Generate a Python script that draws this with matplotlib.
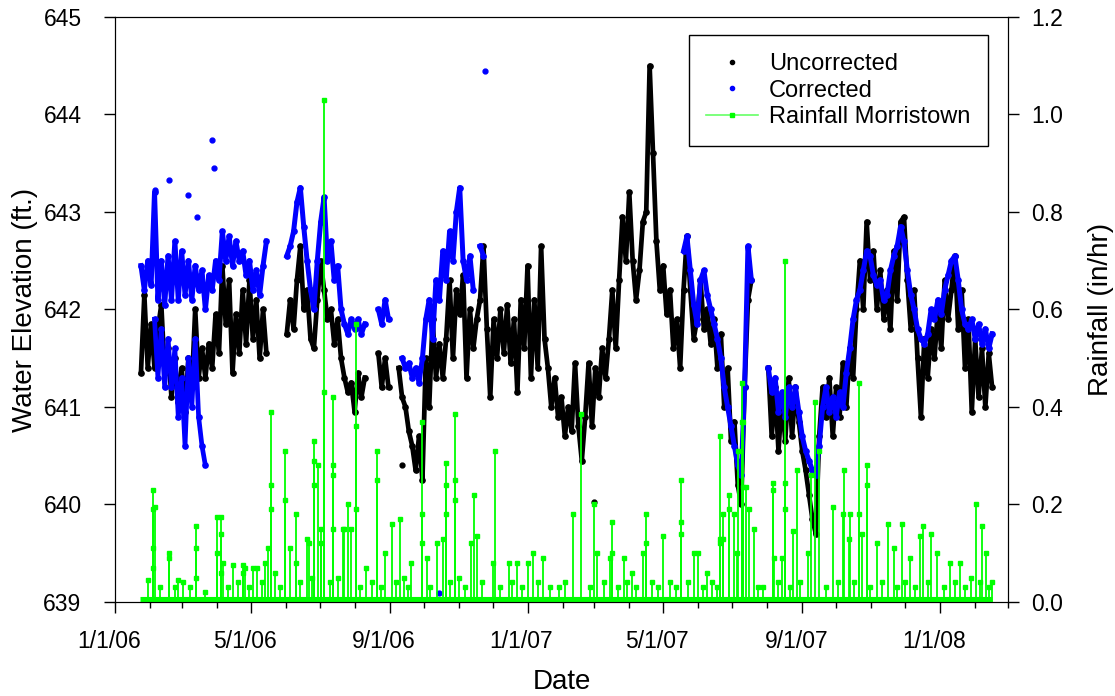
import numpy as np
import pandas as pd
import matplotlib
matplotlib.use('Agg')
import matplotlib.pyplot as plt
import matplotlib.dates as mdates
from matplotlib.lines import Line2D
from matplotlib.transforms import ScaledTranslation

plt.rcParams['font.family'] = ['Liberation Sans', 'DejaVu Sans']

nan = np.nan
t0 = pd.Timestamp('2006-01-01')

# water level readings (ft), one every 3 days starting 1/24/06
level_dates = pd.date_range('2006-01-24', periods=252, freq='3D')

uncorrected = [
    641.35, 642.15, 641.4, 641.85, 641.4, 641.8, 642.05, 641.35, 641.6, 641.1,
    641.5, 641.05, 641.4, 640.95, 641.5, 641.2, 642.0, 641.3, 641.6, 641.3,
    641.65, 641.4, 641.95, 641.55, 642.45, 641.85, 642.3, 641.35, 641.95, 641.55,
    642.2, 641.65, 642.3, 641.7, 642.1, 641.5, 642.0, 641.55, nan, nan,
    nan, nan, nan, 641.75, 642.1, 641.8, 642.3, 642.65, 642.0, 642.2,
    641.7, 641.6, 642.1, 642.5, 642.2, 641.9, 642.0, 641.65, 641.9, 641.5,
    641.3, 641.15, 641.25, 640.95, 641.35, 641.1, 641.3, nan, nan, nan,
    641.55, 641.2, 641.5, 641.2, nan, nan, 641.4, 641.1, 641.0, 640.75,
    640.6, 640.35, 640.7, 640.25, 641.5, 641.0, 641.9, 641.3, 641.65, 641.3,
    641.7, 642.3, 641.5, 642.2, 641.95, 642.35, 641.3, 642.0, 641.6, 641.9,
    642.1, 642.65, 641.8, 641.1, 641.9, 641.5, 642.0, 641.55, 642.05, 641.45,
    641.9, 641.15, 642.1, 641.6, 642.45, 641.3, 642.1, 641.4, 642.65, 641.7,
    641.4, 641.0, 641.3, 640.9, 641.1, 640.7, 641.0, 640.75, 641.45, 640.8,
    640.45, 640.9, 641.45, 640.8, 641.4, 641.1, 641.6, 641.3, 641.7, 642.2,
    641.6, 642.3, 642.95, 642.5, 643.2, 642.5, 642.1, 642.4, 642.9, 643.0,
    644.5, 643.6, 642.7, 642.2, 642.45, 641.95, 642.2, 641.6, 641.9, 641.4,
    642.2, 642.75, 642.2, 641.7, 641.9, 642.3, 641.8, 642.0, 641.65, 641.9,
    641.4, 641.75, 641.0, 641.4, 640.65, 640.85, 640.2, 640.0, 641.2, 642.1,
    642.3, nan, nan, nan, nan, 641.4, 640.7, 641.2, 640.55, 641.1,
    640.65, 641.3, 640.7, 641.2, 640.85, 640.55, 640.35, 640.1, 639.85, 639.7,
    640.7, 641.2, 640.9, 641.3, 640.7, 641.2, 640.9, 641.45, 641.0, 641.6,
    641.3, 642.0, 642.5, 642.0, 642.9, 642.3, 642.6, 642.0, 642.4, 641.9,
    642.2, 641.8, 642.6, 642.1, 642.9, 642.95, 642.3, 641.8, 642.2, 641.5,
    640.9, 641.7, 641.3, 641.8, 641.5, 642.0, 641.6, 642.3, 641.9, 642.2,
    642.55, 641.8, 642.2, 641.4, 641.9, 640.95, 641.7, 641.1, 641.6, 641.0,
    641.55, 641.2,
]

corrected = [
    642.45, 642.2, 642.5, 642.25, 643.2, 642.1, 642.5, 642.05, 642.55, 642.1,
    642.7, 642.1, 642.6, 642.15, 642.5, 642.1, 642.45, 642.2, 642.4, 642.0,
    642.35, 642.2, 642.5, 642.3, 642.8, 642.5, 642.75, 642.45, 642.7, 642.5,
    642.6, 642.35, 642.5, 642.2, 642.4, 642.15, 642.45, 642.7, nan, nan,
    nan, nan, nan, 642.55, 642.65, 642.8, 643.1, 643.25, 642.85, 642.5,
    642.2, 642.0, 642.5, 642.9, 643.15, 642.5, 642.7, 642.3, 642.45, 642.0,
    641.85, 641.75, 641.9, 641.8, 641.9, 641.75, 641.85, nan, nan, nan,
    642.0, 641.85, 642.1, 641.9, nan, nan, nan, 641.5, 641.4, 641.45,
    641.3, 641.4, 641.25, 641.5, 641.9, 642.1, 641.7, 642.3, 642.1, 642.6,
    642.3, 642.8, 642.5, 643.0, 643.25, 642.5, 642.3, 642.55, 642.2, nan,
    642.65, 642.55] + [nan] * 58 + [
    642.6, 642.75, 642.4, 642.05, 641.85, 642.3, 642.4, 642.15, 642.0, 641.85,
    641.7, 641.5, 641.2, 641.0, 640.8, 640.6, 640.4, 640.3, 641.2, 642.65,
    642.3, nan, nan, nan, nan, 641.4, 641.15, 641.3, 640.95, 641.15,
    640.9, 641.2, 641.0, 641.2, 640.95, 640.7, 640.55, 640.45, 640.35, 640.3,
    640.6, 641.0, 641.2, 640.95, 641.1, 640.9, 641.15, 641.0, 641.35, 641.6,
    641.9, 642.1, 642.2, 642.4, 642.6, 642.55, 642.35, 642.25, 642.3, 642.1,
    642.15, 642.4, 642.55, 642.65, 642.85, 642.7, 642.4, 642.15, 642.0, 641.8,
    641.7, 641.65, 641.75, 642.0, 641.9, 642.1, 641.95, 642.2, 642.35, 642.5,
    642.55, 642.3, 642.0, 641.85, 641.8, 641.9, 641.7, 641.85, 641.65, 641.8,
    641.6, 641.75,
]

# second (lower) group of corrected readings, Feb-Mar 2006
corrected_low_dates = pd.date_range('2006-02-05', periods=16, freq='3D')
corrected_low = [641.9, 641.3, 641.8, 641.2, 641.7, 641.2, 641.6, 640.9,
                 641.3, 640.6, 641.5, 641.0, 641.7, 640.9, 640.6, 640.4]

# isolated readings (days since 1/1/06)
corrected_out_day = [35, 48, 65, 73, 86, 88, 287, 327]
corrected_out = [643.23, 643.33, 643.17, 642.95, 643.74, 643.45, 639.09, 644.45]
uncorrected_out_day = [254, 424]
uncorrected_out = [640.4, 640.03]

# rainfall (in/hr), days since 1/1/06
rain_day = [
    29, 34, 34, 34, 34, 35, 40, 48, 48, 53, 56, 60, 66, 72, 72, 72, 80,
    90, 90, 94, 94, 94, 96, 100, 104, 109, 113, 113, 115, 119, 122, 126, 130, 133, 135, 138, 138, 138, 142, 146,
    150, 150, 155, 160, 160, 164, 170, 172, 174, 176, 176, 176, 180, 182, 182, 185, 185, 190, 193, 193, 193, 193, 197, 202, 203, 206, 209,
    213, 213, 213, 217, 222, 227, 232, 232, 235, 239, 245, 249, 252, 256, 259, 262, 272, 272, 272, 276, 279, 285, 290, 293, 293, 293, 296,
    301, 301, 301, 304, 310, 315, 318, 320, 325, 334, 336, 341, 349, 351, 356, 360, 365, 370, 374, 379, 385, 393, 398,
    405, 412, 420, 424, 426, 433, 438, 440, 440, 445, 450, 453, 457, 461, 467, 470, 470, 475, 480, 485, 491, 496,
    501, 501, 501, 507, 512, 516, 520, 524, 528, 533, 535, 535, 535, 538, 538, 543, 543, 548, 550, 551, 555, 555, 556, 556, 558, 561, 565, 569, 573,
    582, 582, 583, 587, 590, 593, 593, 593, 597, 600, 603, 606, 613, 616, 619, 623, 629, 635, 640, 644, 645, 649,
    650, 654, 658, 658, 661, 665, 665, 668, 674, 679, 684, 689, 692, 696, 699, 703, 708, 712, 715, 719, 722, 727, 733, 739, 743, 748, 752, 757, 762, 765, 767, 771, 773, 776,
]
rain_in = [
    .045, .23, .19, .11, .07, .195, .03, .10, .09, .03, .045, .04, .03, .155, .11, .05, .02,
    .175, .10, .175, .14, .06, .08, .03, .075, .04, .075, .06, .07, .03, .07, .07, .04, .08, .11, .39, .24, .19, .06, .03,
    .31, .21, .11, .18, .08, .04, .13, .12, .05, .33, .29, .24, .28, .15, .12, 1.03, .43, .04, .42, .28, .26, .15, .05, .15, .15, .20, .15,
    .57, .36, .19, .03, .07, .04, .31, .25, .03, .10, .16, .04, .17, .05, .03, .08, .37, .18, .12, .09, .03, .12, .13, .285, .24, .18, .04,
    .385, .25, .21, .05, .03, .12, .22, .135, .04, .08, .31, .03, .08, .04, .08, .03, .08, .10, .04, .09, .03, .03, .04,
    .18, .385, .03, .20, .10, .04, .09, .165, .10, .03, .09, .04, .06, .03, .10, .18, .12, .04, .03, .135, .04, .03,
    .25, .165, .14, .04, .10, .10, .03, .06, .04, .03, .34, .13, .12, .18, .13, .22, .19, .18, .10, .31, .45, .37, .37, .235, .235, .19, .15, .03, .03,
    .245, .23, .09, .04, .09, .70, .245, .19, .03, .145, .27, .04, .10, .26, .41, .31, .03, .195, .04, .18, .27, .13,
    .18, .04, .45, .18, .14, .28, .24, .03, .12, .04, .16, .11, .03, .16, .04, .09, .03, .135, .155, .04, .14, .10, .03, .08, .04, .08, .03, .05, .20, .04, .155, .10, .03, .04,
]
rain_first_day, rain_last_day = 22, 776

green = '#00ff00'

fig = plt.figure(figsize=(11.15, 6.96), dpi=100)
ax = fig.add_axes([0.1031, 0.1351, 0.8009, 0.8405])
ax2 = ax.twinx()

# water levels
ax.plot(level_dates, uncorrected, '-o', color='black', lw=3.4, ms=3.8)
ax.plot(t0 + pd.to_timedelta(uncorrected_out_day, 'D'), uncorrected_out, 'o', color='black', ms=3.5)
ax.plot(level_dates, corrected, '-o', color='#0000ff', lw=3.6, ms=3.8)
ax.plot(corrected_low_dates, corrected_low, '-o', color='#0000ff', lw=3.4, ms=3.8)
ax.plot(t0 + pd.to_timedelta(corrected_out_day, 'D'), corrected_out, 'o', color='#0000ff', ms=3.5)

# rainfall
rain_dates = t0 + pd.to_timedelta(rain_day, 'D')
ax2.plot([t0 + pd.Timedelta(days=rain_first_day), t0 + pd.Timedelta(days=rain_last_day)],
         [0, 0], color=green, lw=8, solid_capstyle='butt')
ax2.vlines(rain_dates, 0, rain_in, colors=green, lw=1.3)
ax2.plot(rain_dates, rain_in, 's', color=green, ms=3.5)

ax.set_xlim(pd.Timestamp('2006-01-01'), pd.Timestamp('2008-03-01'))
ax.set_ylim(639, 645)
ax.set_yticks(range(639, 646))
ax2.set_ylim(0, 1.2)
ax2.set_yticks(np.arange(0, 1.21, 0.2))
ax2.yaxis.set_major_formatter(plt.FormatStrFormatter('%.1f'))

ax.xaxis.set_major_locator(mdates.MonthLocator(bymonth=[1, 5, 9]))
ax.xaxis.set_minor_locator(mdates.MonthLocator())
ax.xaxis.set_major_formatter(mdates.DateFormatter('%-m/%-d/%y'))

ax.tick_params(axis='x', which='major', direction='out', length=8, width=1, labelsize=16.5, pad=12)
ax.tick_params(axis='x', which='minor', direction='out', length=4, width=1)
ax.tick_params(axis='y', direction='out', length=8, width=1, labelsize=16.5, pad=16)
ax2.tick_params(axis='y', direction='out', length=8, width=1, labelsize=16.5, pad=9)

for lab in ax.get_xticklabels():
    lab.set_transform(lab.get_transform() + ScaledTranslation(-0.06, 0, fig.dpi_scale_trans))

ax.set_xlabel('Date', fontsize=20, labelpad=12)
ax.set_ylabel('Water Elevation (ft.)', fontsize=20, labelpad=4)
ax2.set_ylabel('Rainfall (in/hr)', fontsize=20, labelpad=18)

handles = [
    Line2D([], [], ls='none', marker='o', color='black', ms=3),
    Line2D([], [], ls='none', marker='o', color='#0000ff', ms=3),
    Line2D([], [], color='#66ff66', lw=1.2, marker='s', mfc=green, mec=green, ms=3),
]
leg = ax2.legend(handles, ['Uncorrected', 'Corrected', 'Rainfall Morristown'],
                 loc='upper right', bbox_to_anchor=(0.9776, 0.969), fontsize=17,
                 frameon=True, fancybox=False, edgecolor='black', framealpha=1,
                 handlelength=2.2, handletextpad=0.45, labelspacing=0.2,
                 borderpad=0.75, borderaxespad=0)
leg.get_frame().set_linewidth(1)

fig.savefig('out.png', dpi=100)
